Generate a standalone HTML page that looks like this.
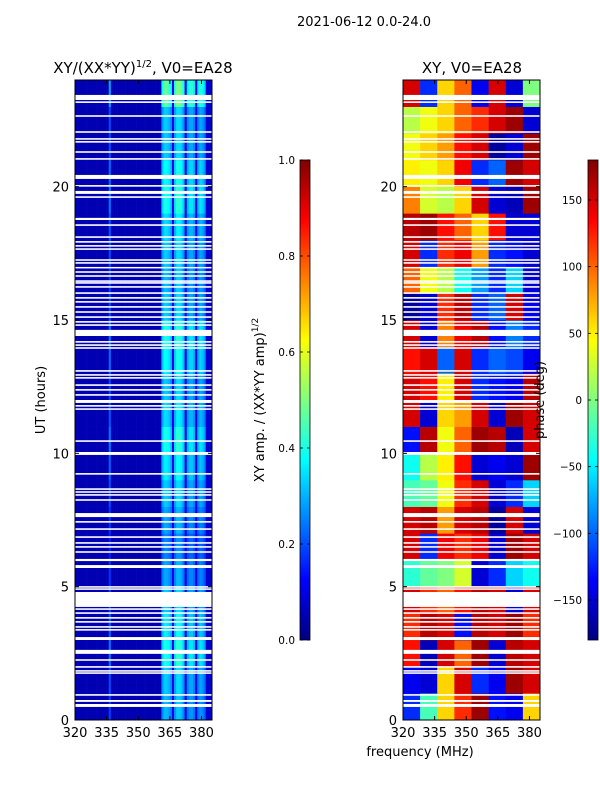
<!DOCTYPE html>
<html><head><meta charset="utf-8">
<style>
html,body{margin:0;padding:0;background:#fff;}
svg{display:block;font-family:"DejaVu Sans","Liberation Sans",sans-serif;}
</style></head>
<body>
<svg id="fig" width="600" height="800" viewBox="0 0 600 800" xmlns="http://www.w3.org/2000/svg">
<text x="364" y="26" font-size="13" text-anchor="middle">2021-06-12 0.0-24.0</text>
<text x="143" y="73" font-size="15" text-anchor="middle">XY/(XX*YY)<tspan font-size="10" dy="-6">1/2</tspan><tspan dy="6">, V0=EA28</tspan></text>
<text x="472" y="73" font-size="15" text-anchor="middle">XY, V0=EA28</text>
<text x="0" y="0" font-size="13" text-anchor="middle" transform="translate(45,400) rotate(-90)">UT (hours)</text>
<text x="420" y="756" font-size="13" text-anchor="middle">frequency (MHz)</text>
<text x="0" y="0" font-size="13" text-anchor="middle" transform="translate(264,400) rotate(-90)">XY amp. / (XX*YY amp)<tspan font-size="9" dy="-6">1/2</tspan></text>
<g id="left"></g>
<g id="right"></g>
<g id="cb1"></g>
<g id="cb2"></g>
<text x="0" y="0" font-size="13" text-anchor="middle" transform="translate(544,400) rotate(-90)">phase (deg)</text>
</svg>
<script>
// ---- data ----
const yTicks = [0,5,10,15,20];
const xTicks = [320,335,350,365,380];
const ampTicks = [0.0,0.2,0.4,0.6,0.8,1.0];
const phaseTicks = [-150,-100,-50,0,50,100,150];
// amplitude per 1-MHz frequency bin, 320..384
const ampCols = [
0.05,0.05,0.05,0.05,0.05,0.05,0.05,0.05,0.05,0.05,0.05,0.05,0.05,0.05,0.05,0.05,
0.22,
0.05,0.05,0.05,0.05,0.05,0.05,0.05,0.05,0.05,0.05,0.05,0.05,0.05,0.05,0.05,0.05,0.05,0.05,0.05,0.05,0.05,0.05,0.05,0.05,
0.3,0.36,0.36,0.34,0.3,
0.12,
0.32,0.38,0.38,0.36,0.3,
0.1,
0.28,0.32,0.32,0.28,
0.1,
0.28,0.32,0.3,0.26,
0.08,0.08,0.08];
// per-hour modulation of amplitude (hour 0..23)
const ampRows = [0.85,0.9,1.1,1.0,0.9,0.8,0.7,0.8,0.9,1.0,1.1,0.95,0.9,1.05,1.1,0.9,0.85,0.9,0.95,1.1,1.05,0.9,0.9,1.3];
// phase grid (deg): rows = hour 0..23, cols = 8 freq bins of ~8 MHz
const phaseGrid = [
[-120,-20,60,120,170,-130,-140,60],
[-140,-150,60,150,-120,-140,170,150],
[130,-160,150,100,170,-150,160,150],
[120,160,150,-130,160,150,170,120],
[150,120,100,130,160,150,-150,150],
[-30,-10,0,30,-150,-120,-60,-40],
[150,-120,140,120,140,-150,170,150],
[150,160,80,150,160,-170,150,-150],
[-20,-10,40,120,150,-150,-120,-60],
[-40,20,50,130,-150,-140,-150,170],
[-130,160,40,100,170,160,-160,150],
[150,-150,60,80,150,-150,170,150],
[150,130,50,150,-120,-130,-140,160],
[130,150,-100,150,-120,-100,-110,-140],
[150,-150,90,140,160,-130,-90,-120],
[-170,-150,120,160,-120,-100,150,-140],
[100,40,20,-40,-80,-120,-60,-150],
[150,-120,120,140,80,-120,-130,-150],
[160,170,130,100,60,130,-150,-150],
[90,30,20,60,150,-150,-160,170],
[50,40,60,140,-120,-100,170,150],
[40,60,80,130,150,-170,-150,170],
[20,40,60,100,120,150,170,-150],
[150,-120,60,100,-140,150,-150,0]
];
// flagged (white) time ranges, hours [start,end]
const gapRanges = [[23.25,23.44],[20.29,20.44],[19.73,19.84],[18.75,18.83],[16.95,16.99],[14.40,14.63],[11.89,12.0],[9.94,10.05],[7.61,7.76],[5.96,6.04],[5.70,5.81],[4.24,4.80],[3.0,3.11],[2.48,2.63],[0.68,0.75],[0.49,0.60]];
const gapLines = [23.17,22.65,22.05,21.79,21.68,21.30,21.04,20.03,19.61,18.56,18.11,17.93,17.78,17.66,17.25,17.14,16.80,16.65,16.46,16.39,16.24,16.01,15.83,15.68,15.49,15.30,15.11,14.93,14.81,14.18,14.06,13.95,13.09,12.94,12.83,12.56,12.38,12.19,11.78,11.66,10.46,9.23,8.66,8.55,8.44,8.25,7.43,7.16,6.86,6.64,6.49,6.30,4.99,4.91,4.16,4.01,3.83,3.68,3.49,3.38,2.25,1.99,1.84,1.76,0.94];

// ---- helpers ----
const NS='http://www.w3.org/2000/svg';
function mk(tag,attrs,parent){const e=document.createElementNS(NS,tag);for(const k in attrs)e.setAttribute(k,attrs[k]);parent.appendChild(e);return e;}
function jet(v){v=Math.max(0,Math.min(1,v));
 const c=x=>Math.round(255*Math.max(0,Math.min(1,x)));
 const r=c(Math.min(4*v-1.5,-4*v+4.5)),g=c(Math.min(4*v-0.5,-4*v+3.5)),b=c(Math.min(4*v+0.5,-4*v+2.5));
 return `rgb(${r},${g},${b})`;}
const Y0=80,Y1=720;
const yS=h=>Y1-(h/24)*(Y1-Y0);
function drawGaps(g,x0,x1){
 gapRanges.forEach(r=>{const e=mk('rect',{x:x0,y:yS(r[1]),width:x1-x0,height:Math.max(1.5,yS(r[0])-yS(r[1])),fill:'#fff'},g);
  
  });
 gapLines.forEach(h=>{const e=mk('rect',{x:x0,y:yS(h)-0.8,width:x1-x0,height:1.6,fill:'#fff'},g);
  
  });
}
function axes(g,x0,x1,xS){
 mk('rect',{x:x0,y:Y0,width:x1-x0,height:Y1-Y0,fill:'none',stroke:'#000','stroke-width':1},g);
 yTicks.forEach(t=>{const y=yS(t);
  mk('line',{x1:x0,x2:x0+4,y1:y,y2:y,stroke:'#000'},g);mk('line',{x1:x1,x2:x1-4,y1:y,y2:y,stroke:'#000'},g);
  const tx=mk('text',{x:x0-6,y:y+5,'font-size':13,'text-anchor':'end'},g);tx.textContent=t;
  
  });
 xTicks.forEach(t=>{const x=xS(t);
  mk('line',{x1:x,x2:x,y1:Y1,y2:Y1-4,stroke:'#000'},g);mk('line',{x1:x,x2:x,y1:Y0,y2:Y0+4,stroke:'#000'},g);
  const tx=mk('text',{x:x,y:Y1+17,'font-size':13,'text-anchor':'middle'},g);tx.textContent=t;
  
  });
}
// ---- left: amplitude ----
(function(){
 const g=document.getElementById('left');const x0=75,x1=212,f0=320,f1=385;
 const xS=f=>x0+(f-f0)/(f1-f0)*(x1-x0);
 for(let h=0;h<24;h++){for(let i=0;i<ampCols.length;i++){
  const fa=f0+i,fb=Math.min(f1,fa+1);if(fa>=f1)break;
  const v=Math.min(1,ampCols[i]*(ampCols[i]>0.2?ampRows[h]:1));
  const r=mk('rect',{x:xS(fa),y:yS(h+1),width:xS(fb)-xS(fa)+0.3,height:yS(h)-yS(h+1)+0.3,fill:jet(v)},g);
  
  }}
 drawGaps(g,x0,x1);axes(g,x0,x1,xS);
})();
// ---- right: phase ----
(function(){
 const g=document.getElementById('right');const x0=403,x1=540,f0=320,f1=385;
 const xS=f=>x0+(f-f0)/(f1-f0)*(x1-x0);
 const bw=(f1-f0)/8;
 for(let h=0;h<24;h++){for(let i=0;i<8;i++){
  const fa=f0+i*bw;const v=(phaseGrid[h][i]+180)/360;
  const r=mk('rect',{x:xS(fa),y:yS(h+1),width:xS(fa+bw)-xS(fa)+0.3,height:yS(h)-yS(h+1)+0.3,fill:jet(v)},g);
  
  }}
 drawGaps(g,x0,x1);axes(g,x0,x1,xS);
})();
// ---- colorbars ----
function colorbar(id,x,vmin,vmax,ticks,labelX,fmt){
 const g=document.getElementById(id);const t=160,b=640,w=10;
 const id2=id+'grad';const defs=mk('defs',{},g);const lg=mk('linearGradient',{id:id2,x1:0,y1:1,x2:0,y2:0},defs);
 for(let i=0;i<=16;i++){mk('stop',{offset:i/16,'stop-color':jet(i/16)},lg);}
 mk('rect',{x:x,y:t,width:w,height:b-t,fill:`url(#${id2})`,stroke:'#000','stroke-width':0.8},g);
 const yv=v=>b-(v-vmin)/(vmax-vmin)*(b-t);
 ticks.forEach(v=>{const y=yv(v);
  mk('line',{x1:x,x2:x+3,y1:y,y2:y,stroke:'#000','stroke-width':0.8},g);mk('line',{x1:x+w,x2:x+w-3,y1:y,y2:y,stroke:'#000','stroke-width':0.8},g);
  const tx=mk('text',{x:labelX,y:y+4,'font-size':10.5,'text-anchor':'end'},g);tx.textContent=fmt(v);
  
  });
}
colorbar('cb1',300,0,1,ampTicks,295,v=>v.toFixed(1));
colorbar('cb2',588,-180,180,phaseTicks,582,v=>v<0?'\u2212'+(-v):String(v));
</script>
</body></html>
